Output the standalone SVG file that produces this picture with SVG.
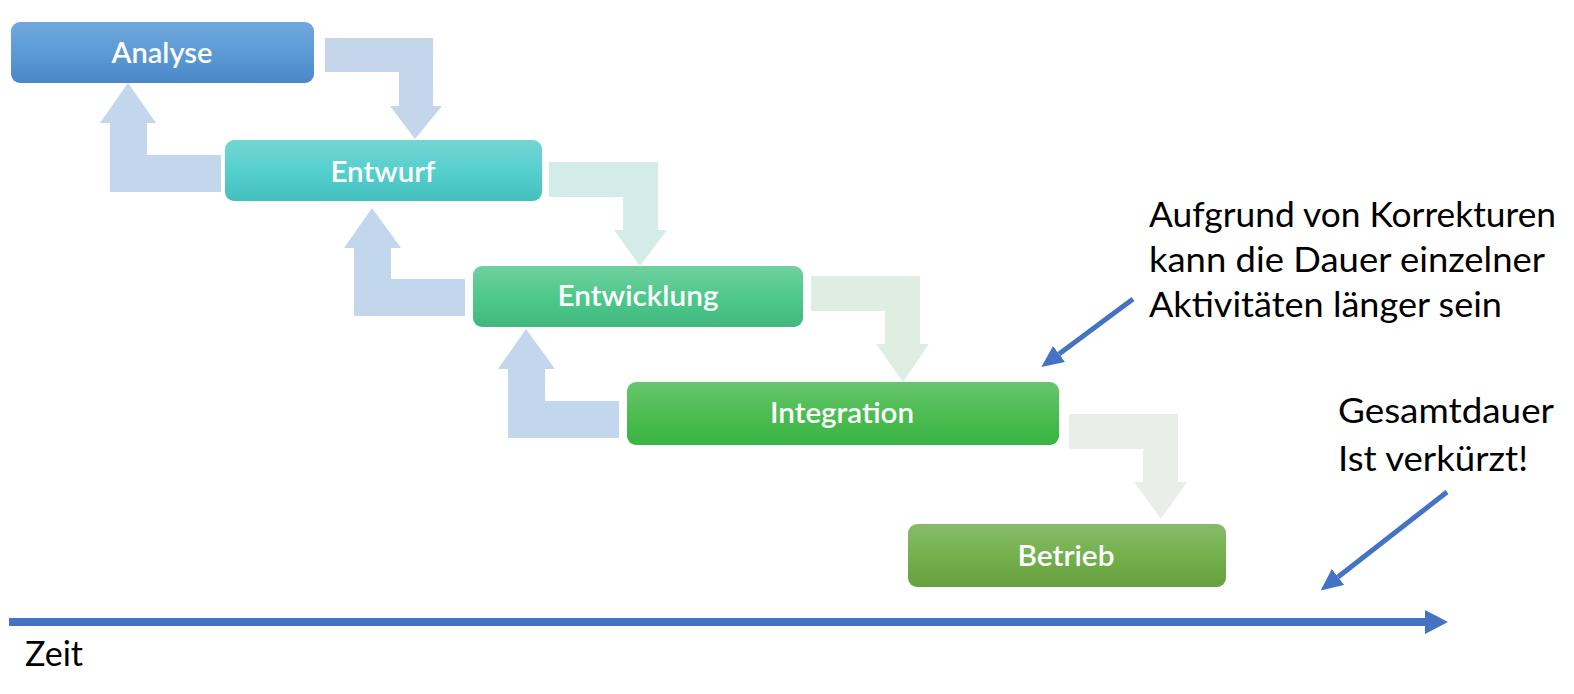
<svg xmlns="http://www.w3.org/2000/svg" width="1574" height="694" viewBox="0 0 1574 694">
<style>
.lbl{font-family:Lato,"Open Sans","Liberation Sans",sans-serif;font-size:29px;font-weight:600;fill:#ffffff;text-anchor:middle}
.note{font-family:Lato,"Open Sans","Liberation Sans",sans-serif;font-size:34px;fill:#000000}
.ann{stroke:#4472c4;stroke-width:5;fill:none}
</style>
<defs>
<linearGradient id="gA" x1="0" y1="0" x2="0" y2="1"><stop offset="0" stop-color="#72a7dd"/><stop offset="0.5" stop-color="#5b9bd5"/><stop offset="1" stop-color="#4a87c6"/></linearGradient>
<linearGradient id="gE" x1="0" y1="0" x2="0" y2="1"><stop offset="0" stop-color="#74d5d3"/><stop offset="0.5" stop-color="#55d0cf"/><stop offset="1" stop-color="#44bfbe"/></linearGradient>
<linearGradient id="gW" x1="0" y1="0" x2="0" y2="1"><stop offset="0" stop-color="#6fd09e"/><stop offset="0.5" stop-color="#4fc98b"/><stop offset="1" stop-color="#40b87e"/></linearGradient>
<linearGradient id="gI" x1="0" y1="0" x2="0" y2="1"><stop offset="0" stop-color="#68c56e"/><stop offset="0.5" stop-color="#4cbd52"/><stop offset="1" stop-color="#3bb345"/></linearGradient>
<linearGradient id="gB" x1="0" y1="0" x2="0" y2="1"><stop offset="0" stop-color="#88bb6b"/><stop offset="0.5" stop-color="#74b04d"/><stop offset="1" stop-color="#66a13e"/></linearGradient>
<marker id="ah" markerUnits="userSpaceOnUse" viewBox="0 -10 22 20" refX="0" refY="0" markerWidth="22" markerHeight="20" orient="auto"><path d="M0,-10 L22,0 L0,10 Z" fill="#4472c4"/></marker>
<marker id="axh" markerUnits="userSpaceOnUse" viewBox="0 -12 23 24" refX="0" refY="0" markerWidth="23" markerHeight="24" orient="auto"><path d="M0,-12 L23,0 L0,12 Z" fill="#4472c4"/></marker>
</defs>
<g id="connectors">
<path d="M325,38 H433 V106 H442 L415,139 L390,106 H399 V72 H325 Z" fill="#c5d6ea"/>
<path d="M221,155 V192 H110 V123 H100 L128,83 L156,123 H147 V155 Z" fill="#c2d7ec"/>
<path d="M549,162 H658 V230 H667 L640,266 L614,230 H623 V197 H549 Z" fill="#d3ecea"/>
<path d="M465,279 V316 H354 V248 H344 L372,208 L401,248 H391 V279 Z" fill="#c2d7ec"/>
<path d="M811,276 H920 V344 H929 L903,382 L876,344 H885 V311 H811 Z" fill="#deeee2"/>
<path d="M619,401 V438 H508 V369 H498 L526,329 L555,369 H545 V401 Z" fill="#c2d7ec"/>
<path d="M1069,414 H1178 V482 H1187 L1161,519 L1134,482 H1143 V449 H1069 Z" fill="#e9efe8"/>
<line class="ann" x1="1133" y1="299" x2="1059" y2="354" marker-end="url(#ah)"/>
<line class="ann" x1="1447" y1="492" x2="1338" y2="577" marker-end="url(#ah)"/>
<line x1="9" y1="622" x2="1425" y2="622" stroke="#4472c4" stroke-width="8" marker-end="url(#axh)"/>
</g>
<g id="analyse"><rect x="11" y="22" width="303" height="61" rx="9" fill="url(#gA)"/><text class="lbl" x="162" y="63" textLength="101" lengthAdjust="spacingAndGlyphs">Analyse</text></g>
<g id="entwurf"><rect x="225" y="140" width="317" height="61" rx="9" fill="url(#gE)"/><text class="lbl" x="383" y="182" textLength="105" lengthAdjust="spacingAndGlyphs">Entwurf</text></g>
<g id="entwicklung"><rect x="473" y="266" width="330" height="61" rx="9" fill="url(#gW)"/><text class="lbl" x="638" y="306" textLength="161" lengthAdjust="spacingAndGlyphs">Entwicklung</text></g>
<g id="integration"><rect x="627" y="382" width="432" height="63" rx="9" fill="url(#gI)"/><text class="lbl" x="842" y="423" textLength="144" lengthAdjust="spacingAndGlyphs">Integration</text></g>
<g id="betrieb"><rect x="908" y="524" width="318" height="63" rx="9" fill="url(#gB)"/><text class="lbl" x="1066" y="566" textLength="97" lengthAdjust="spacingAndGlyphs">Betrieb</text></g>
<g id="note1">
<text class="note" x="1149" y="227" textLength="407" lengthAdjust="spacingAndGlyphs">Aufgrund von Korrekturen</text>
<text class="note" x="1149" y="272" textLength="396" lengthAdjust="spacingAndGlyphs">kann die Dauer einzelner</text>
<text class="note" x="1149" y="317" textLength="353" lengthAdjust="spacingAndGlyphs">Aktivitäten länger sein</text>
</g>
<g id="note2">
<text class="note" x="1338" y="423" textLength="216" lengthAdjust="spacingAndGlyphs">Gesamtdauer</text>
<text class="note" x="1338" y="471" textLength="190" lengthAdjust="spacingAndGlyphs">Ist verkürzt!</text>
</g>
<g id="zeit"><text class="note" x="25" y="666" textLength="58" lengthAdjust="spacingAndGlyphs">Zeit</text></g>
</svg>
